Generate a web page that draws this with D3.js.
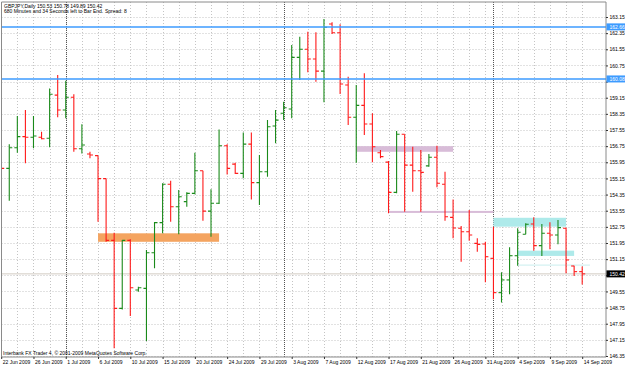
<!DOCTYPE html>
<html>
<head>
<meta charset="utf-8">
<script src="https://cdn.jsdelivr.net/npm/d3@7"></script>
<style>
  html, body { margin: 0; padding: 0; background: #fff; }
  svg { display: block; font-family: 'Liberation Sans', Arial, sans-serif; }
</style>
</head>
<body>
<div id="chart"></div>
<script>

// ━━━━━━━━━━━━━━━━━━━━━━━━━━━━━━━━━━━━━━━━━━━━━━━━━━━━━━━━━━━━━━━━━━━━━━━━━━━━━━
// GBPJPY Daily — data ///////////////////////////////////////////////////////////
// ━━━━━━━━━━━━━━━━━━━━━━━━━━━━━━━━━━━━━━━━━━━━━━━━━━━━━━━━━━━━━━━━━━━━━━━━━━━━━━

// one bar per trading day (the broker also prints sunday bars)
const dates = [
  '22 Jun 2009','23 Jun 2009','24 Jun 2009','25 Jun 2009','26 Jun 2009','28 Jun 2009','29 Jun 2009','30 Jun 2009',
  '1 Jul 2009','2 Jul 2009','3 Jul 2009','5 Jul 2009','6 Jul 2009','7 Jul 2009','8 Jul 2009','9 Jul 2009',
  '10 Jul 2009','12 Jul 2009','13 Jul 2009','14 Jul 2009','15 Jul 2009','16 Jul 2009','17 Jul 2009','19 Jul 2009',
  '20 Jul 2009','21 Jul 2009','22 Jul 2009','23 Jul 2009','24 Jul 2009','26 Jul 2009','27 Jul 2009','28 Jul 2009',
  '29 Jul 2009','30 Jul 2009','31 Jul 2009','2 Aug 2009','3 Aug 2009','4 Aug 2009','5 Aug 2009','6 Aug 2009',
  '7 Aug 2009','9 Aug 2009','10 Aug 2009','11 Aug 2009','12 Aug 2009','13 Aug 2009','14 Aug 2009','16 Aug 2009',
  '17 Aug 2009','18 Aug 2009','19 Aug 2009','20 Aug 2009','21 Aug 2009','23 Aug 2009','24 Aug 2009','25 Aug 2009',
  '26 Aug 2009','27 Aug 2009','28 Aug 2009','30 Aug 2009','31 Aug 2009','1 Sep 2009','2 Sep 2009','3 Sep 2009',
  '4 Sep 2009','6 Sep 2009','7 Sep 2009','8 Sep 2009','9 Sep 2009','10 Sep 2009','11 Sep 2009','13 Sep 2009',
  '14 Sep 2009'
];

const opens = [
  157.00,155.65,156.67,157.22,157.19,157.19,157.14,159.28,158.54,159.17,156.62,156.36,156.28,155.14,152.08,148.71,
  152.08,149.62,149.70,151.47,152.96,154.86,153.75,154.00,154.41,155.53,153.53,153.92,156.77,155.86,155.40,156.85,
  154.94,155.48,157.75,158.38,158.59,161.15,161.55,161.07,160.47,162.80,162.37,159.78,158.18,158.77,157.85,156.42,
  155.96,154.46,157.34,155.81,155.53,155.77,156.20,154.86,153.22,152.68,152.51,151.93,151.90,151.19,149.49,150.12,
  151.32,152.38,152.89,151.82,152.43,152.35,152.68,150.81,150.53
];
const highs = [
  158.65,156.84,158.24,158.54,158.24,157.46,159.61,160.27,159.99,159.32,157.83,156.47,156.28,155.14,152.46,152.10,
  152.13,149.78,151.60,152.99,154.91,155.04,154.58,154.46,156.42,155.53,154.61,157.58,156.84,155.93,157.43,157.43,
  156.31,158.04,158.54,158.95,161.76,162.17,162.42,162.39,163.05,162.89,162.79,160.19,159.78,160.36,158.38,156.56,
  156.01,157.50,157.34,156.72,156.56,156.36,156.77,155.48,154.10,152.79,153.58,152.18,152.01,152.76,150.50,151.74,
  152.68,152.93,153.22,152.89,152.98,153.09,152.71,150.82,150.78
];
const lows = [
  155.43,154.05,156.42,155.90,156.64,157.09,156.69,158.18,158.13,156.47,156.39,156.15,153.00,152.01,146.73,148.66,
  148.33,149.54,147.09,150.70,152.43,153.00,152.38,153.75,154.36,153.05,152.26,153.88,155.35,155.37,155.16,154.11,
  153.83,155.23,156.89,158.04,158.13,160.03,160.41,159.94,158.92,162.31,159.33,157.80,155.93,157.30,155.95,156.15,
  153.42,154.41,153.50,154.49,153.50,155.73,154.71,153.05,152.18,151.02,152.06,151.52,150.00,149.16,149.00,149.41,
  150.82,152.38,151.57,151.31,151.64,151.89,150.45,150.31,149.89
];
const closes = [
  155.65,156.67,157.22,157.19,157.25,157.12,159.32,158.54,159.17,156.62,156.81,156.31,155.14,152.08,148.71,152.08,
  149.73,149.73,151.47,152.96,154.86,153.75,154.24,154.41,155.53,153.53,153.92,156.77,155.65,155.40,156.85,154.94,
  155.48,157.71,158.04,158.65,161.15,161.55,161.07,160.47,162.64,162.37,159.83,158.18,158.77,157.85,156.72,156.23,
  154.46,157.34,155.81,155.53,155.45,156.20,154.91,153.25,152.69,152.51,152.35,151.88,151.27,149.49,150.12,151.32,
  152.48,152.88,151.82,152.43,152.35,152.71,151.11,150.53,150.42
];

const priceTicks = [
  '146.35','147.15','147.95','148.75','149.55','150.35','151.15','151.95','152.75','153.55','154.35',
  '155.15','155.95','156.75','157.55','158.35','159.15','159.95','160.75','161.55','162.35','163.15'
];

// objetos dibujados sobre el chart (bar index / precio)
const hLinePrices   = [162.66, 160.08];
const lastPrice     = 150.42;
const boxFrom       = [12, 44, 48, 61, 64, 64];
const boxTo         = [27, 56, 61, 70, 71, 72.96];
const boxTop        = [152.43, 156.75, 153.54, 153.20, 151.57, 150.88];
const boxBottom     = [152.01, 156.47, 153.44, 152.76, 151.31, 150.84];
const boxKind       = ['orange', 'thistle', 'thistle', 'cyan', 'cyan', 'cyanline'];

const monthStarts   = ['1 Jul 2009', '2 Aug 2009', '1 Sep 2009'];

// ━━━━━━━━━━━━━━━━━━━━━━━━━━━━━━━━━━━━━━━━━━━━━━━━━━━━━━━━━━━━━━━━━━━━━━━━━━━━━━
// SVG setup /////////////////////////////////////////////////////////////////////
// ━━━━━━━━━━━━━━━━━━━━━━━━━━━━━━━━━━━━━━━━━━━━━━━━━━━━━━━━━━━━━━━━━━━━━━━━━━━━━━

const width = 625;
const height = 366;
const plot = { left: 1.5, right: 606, top: 2, bottom: 357 };

const svg = d3.select('#chart').append('svg')
  .attr('width', width)
  .attr('height', height)
  .attr('viewBox', [0, 0, width, height]);

svg.append('defs').append('clipPath').attr('id', 'plot-clip')
  .append('rect')
  .attr('x', plot.left).attr('y', plot.top)
  .attr('width', plot.right - plot.left).attr('height', plot.bottom - plot.top);

const x = d3.scaleLinear().domain([0, dates.length - 1]).range([1.2, 582.2]);
const y = d3.scaleLinear().domain([146.35, 163.15]).range([356, 17]);

const bars = dates.map((d, i) => ({ date: d, i, o: opens[i], h: highs[i], l: lows[i], c: closes[i] }));

const           grid = svg.append('g').attr('id', 'grid').attr('clip-path', 'url(#plot-clip)');
const        objects = svg.append('g').attr('id', 'objects').attr('clip-path', 'url(#plot-clip)');
const          ohlc = svg.append('g').attr('id', 'ohlc').attr('clip-path', 'url(#plot-clip)');
const         lines = svg.append('g').attr('id', 'hlines').attr('clip-path', 'url(#plot-clip)');
const          axes = svg.append('g').attr('id', 'axes');

// ━━━━━━━━━━━━━━━━━━━━━━━━━━━━━━━━━━━━━━━━━━━━━━━━━━━━━━━━━━━━━━━━━━━━━━━━━━━━━━
// Grid //////////////////////////////////////////////////////////////////////////
// ━━━━━━━━━━━━━━━━━━━━━━━━━━━━━━━━━━━━━━━━━━━━━━━━━━━━━━━━━━━━━━━━━━━━━━━━━━━━━━

grid.selectAll('line.h')
  .data(priceTicks)
  .join('line')
  .attr('class', 'h')
  .attr('x1', plot.left).attr('x2', plot.right)
  .attr('y1', d => Math.round(y(+d)) + 0.5).attr('y2', d => Math.round(y(+d)) + 0.5)
  .attr('stroke', '#c4c4c4').attr('stroke-width', 1).attr('stroke-dasharray', '1,2');

grid.selectAll('line.v')
  .data(bars.filter(b => b.i % 2 === 0))
  .join('line')
  .attr('class', 'v')
  .attr('x1', d => Math.round(x(d.i)) + 0.5).attr('x2', d => Math.round(x(d.i)) + 0.5)
  .attr('y1', plot.top).attr('y2', plot.bottom)
  .attr('stroke', '#c4c4c4').attr('stroke-width', 1).attr('stroke-dasharray', '1,2');

// separadores de mes
grid.selectAll('line.m')
  .data(bars.filter(b => monthStarts.includes(b.date)))
  .join('line')
  .attr('class', 'm')
  .attr('x1', d => Math.round(x(d.i)) + 0.5).attr('x2', d => Math.round(x(d.i)) + 0.5)
  .attr('y1', plot.top).attr('y2', plot.bottom)
  .attr('stroke', '#555').attr('stroke-width', 1).attr('stroke-dasharray', '1,1');

// linea del ultimo precio (bid)
grid.append('line')
  .attr('x1', plot.left).attr('x2', plot.right)
  .attr('y1', y(lastPrice)).attr('y2', y(lastPrice))
  .attr('stroke', '#d2cbc2').attr('stroke-width', 1);

// ━━━━━━━━━━━━━━━━━━━━━━━━━━━━━━━━━━━━━━━━━━━━━━━━━━━━━━━━━━━━━━━━━━━━━━━━━━━━━━
// Rectangulos (objetos de analisis) /////////////////////////////////////////////
// ━━━━━━━━━━━━━━━━━━━━━━━━━━━━━━━━━━━━━━━━━━━━━━━━━━━━━━━━━━━━━━━━━━━━━━━━━━━━━━

const boxFill = { orange: '#f4a460', thistle: '#d8bcd8', cyan: '#aeeaea', cyanline: '#c9eeee' };

objects.selectAll('rect')
  .data(boxFrom.map((f, k) => ({ f, t: boxTo[k], top: boxTop[k], bot: boxBottom[k], kind: boxKind[k] })))
  .join('rect')
  .attr('x', d => x(d.f))
  .attr('width', d => x(d.t) - x(d.f))
  .attr('y', d => y(d.top))
  .attr('height', d => Math.max(1, y(d.bot) - y(d.top)))
  .attr('fill', d => boxFill[d.kind]);

// ━━━━━━━━━━━━━━━━━━━━━━━━━━━━━━━━━━━━━━━━━━━━━━━━━━━━━━━━━━━━━━━━━━━━━━━━━━━━━━
// Barras OHLC ///////////////////////////////////////////////////////////////////
// ━━━━━━━━━━━━━━━━━━━━━━━━━━━━━━━━━━━━━━━━━━━━━━━━━━━━━━━━━━━━━━━━━━━━━━━━━━━━━━

const barColor = d => d.c >= d.o ? '#1a8a1a' : '#ff1a1a';
const tick = 3;

const barG = ohlc.selectAll('g')
  .data(bars)
  .join('g')
  .attr('stroke', barColor)
  .attr('stroke-width', 1.1);

barG.append('line')
  .attr('x1', d => x(d.i)).attr('x2', d => x(d.i))
  .attr('y1', d => y(d.h)).attr('y2', d => y(d.l));

barG.append('line')
  .attr('x1', d => x(d.i) - tick).attr('x2', d => x(d.i))
  .attr('y1', d => y(d.o)).attr('y2', d => y(d.o));

barG.append('line')
  .attr('x1', d => x(d.i)).attr('x2', d => x(d.i) + tick)
  .attr('y1', d => y(d.c)).attr('y2', d => y(d.c));

// lineas horizontales azules
lines.selectAll('line')
  .data(hLinePrices)
  .join('line')
  .attr('x1', plot.left).attr('x2', plot.right)
  .attr('y1', d => y(d)).attr('y2', d => y(d))
  .attr('stroke', '#3d9bff').attr('stroke-width', 1.5);

// ━━━━━━━━━━━━━━━━━━━━━━━━━━━━━━━━━━━━━━━━━━━━━━━━━━━━━━━━━━━━━━━━━━━━━━━━━━━━━━
// Ejes //////////////////////////////////////////////////////////////////////////
// ━━━━━━━━━━━━━━━━━━━━━━━━━━━━━━━━━━━━━━━━━━━━━━━━━━━━━━━━━━━━━━━━━━━━━━━━━━━━━━

// marco
axes.append('path')
  .attr('d', `M${plot.left},${plot.bottom}V${plot.top}H${plot.right}V${plot.bottom}H${plot.left}`)
  .attr('fill', 'none').attr('stroke', '#8a8a8a').attr('stroke-width', 1);

// etiquetas de lineas y ultimo precio (tapan las marcas del eje que quedan debajo)
const tags = hLinePrices.map(p => ({ p, bg: '#3d9bff' })).concat([{ p: lastPrice, bg: '#000' }]);
const hiddenByTag = v => tags.some(t => Math.abs(y(t.p) - y(v)) < 4.5);

// eje de precios (derecha)
const yAxis = axes.append('g')
  .attr('transform', `translate(${plot.right},0)`)
  .call(d3.axisRight(y)
    .tickValues(priceTicks.map(Number))
    .tickFormat(v => hiddenByTag(v) ? '' : d3.format('.2f')(v))
    .tickSize(2)
    .tickPadding(1.5));
yAxis.select('.domain').remove();
yAxis.selectAll('line').attr('stroke', '#333');
yAxis.selectAll('text').attr('font-size', 5).attr('fill', '#000').attr('font-family', null);

const tagG = axes.selectAll('g.tag')
  .data(tags)
  .join('g')
  .attr('class', 'tag')
  .attr('transform', d => `translate(${plot.right},${y(d.p)})`);
tagG.append('rect')
  .attr('x', 0.5).attr('y', -3.5).attr('width', 19).attr('height', 7)
  .attr('fill', d => d.bg);
tagG.append('text')
  .attr('x', 3.5).attr('dy', '0.35em')
  .attr('font-size', 5).attr('fill', '#fff')
  .text(d => d.p.toFixed(2));

// eje de fechas (abajo)
const labelled = bars.filter(b => b.i % 4 === 0);
const xAxis = axes.append('g')
  .attr('transform', `translate(0,${plot.bottom})`)
  .call(d3.axisBottom(x)
    .tickValues(labelled.map(b => b.i))
    .tickFormat(i => dates[i])
    .tickSize(2)
    .tickPadding(1));
xAxis.select('.domain').remove();
xAxis.selectAll('line').attr('stroke', '#333');
xAxis.selectAll('text')
  .attr('text-anchor', 'start').attr('dx', 1)
  .attr('font-size', 5).attr('fill', '#000').attr('font-family', null);

// ━━━━━━━━━━━━━━━━━━━━━━━━━━━━━━━━━━━━━━━━━━━━━━━━━━━━━━━━━━━━━━━━━━━━━━━━━━━━━━
// Textos ////////////////////////////////////////////////////////////////////////
// ━━━━━━━━━━━━━━━━━━━━━━━━━━━━━━━━━━━━━━━━━━━━━━━━━━━━━━━━━━━━━━━━━━━━━━━━━━━━━━

const last = bars[bars.length - 1];
const header = svg.append('g').attr('font-size', 5).attr('fill', '#000');
header.append('text').attr('x', 4).attr('y', 7.5)
  .text(`GBPJPY,Daily  ${last.o.toFixed(2)} ${last.h.toFixed(2)} ${last.l.toFixed(2)} ${last.c.toFixed(2)}`);
header.append('text').attr('x', 4).attr('y', 12.5)
  .text('680 Minutes and 34 Seconds left to Bar End.');
header.append('text').attr('x', 105).attr('y', 12.5)
  .text('Spread: 8');

svg.append('text')
  .attr('x', 3).attr('y', 354.5)
  .attr('font-size', 5).attr('fill', '#000')
  .text('Interbank FX Trader 4, © 2001-2009 MetaQuotes Software Corp.');

</script>
</body>
</html>
